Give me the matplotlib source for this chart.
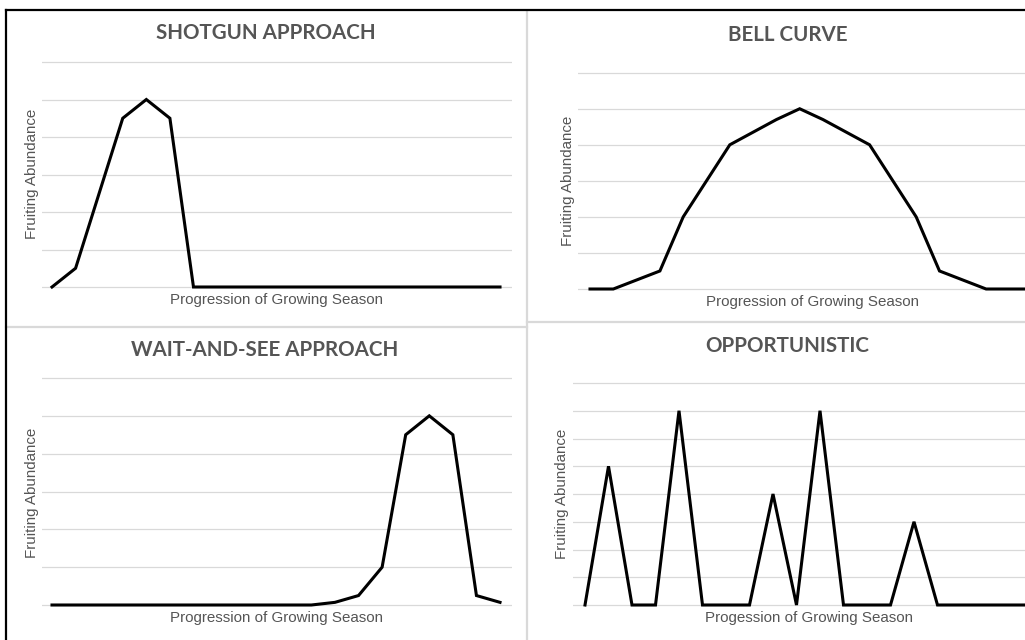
#!/usr/bin/env python3
"""
four fruiting strategy sketches, laid out like a 2x2 screenshot collage
"""
import matplotlib.pyplot as plt
from matplotlib.lines import Line2D

# ---- data ----
season = list(range(20))
shotgun = [0, 0.5, 2.5, 4.5, 5, 4.5, 0, 0, 0, 0, 0, 0, 0, 0, 0, 0, 0, 0, 0, 0]
bell = [0, 0, 0.25, 0.5, 2, 3, 4, 4.35, 4.7, 5, 4.7, 4.35, 4, 3, 2, 0.5,
        0.25, 0, 0, 0]
wait_and_see = [0, 0, 0, 0, 0, 0, 0, 0, 0, 0, 0, 0, 0.07, 0.25, 1, 4.5, 5,
                4.5, 0.25, 0.07]
opportunistic = [0, 5, 0, 0, 7, 0, 0, 0, 4, 0, 7, 0, 0, 0, 3, 0, 0, 0, 0, 0]

titles = ["SHOTGUN APPROACH", "BELL CURVE", "WAIT-AND-SEE APPROACH",
          "OPPORTUNISTIC"]
xlabels = ["Progression of Growing Season", "Progression of Growing Season",
           "Progression of Growing Season", "Progession of Growing Season"]
ylabel = "Fruiting Abundance"
series = [shotgun, bell, wait_and_see, opportunistic]
grid_max = [6, 6, 6, 8]

W, H = 1025, 640
GRAY_TXT = "#555555"
GRID = "#d9d9d9"

# pixel layout of each panel (image coords, y down)
# x0/dx: where the first point sits and the point spacing
layout = [
    dict(x0=52, dx=23.58, gl=42, gr=512, gt=62, gb=287,
         title=(266, 39), xl=(276, 304), yl=(32, 174)),
    dict(x0=590, dx=23.3, gl=578, gr=1045, gt=72.7, gb=289,
         title=(788, 41), xl=(813, 306), yl=(568, 181)),
    dict(x0=52, dx=23.58, gl=42, gr=512, gt=378, gb=605,
         title=(265, 356), xl=(276, 622), yl=(32, 493)),
    dict(x0=585, dx=23.5, gl=573, gr=1045, gt=383, gb=605,
         title=(787, 352), xl=(809, 622), yl=(562, 494)),
]


def fx(x):
    return x / W


def fy(y):
    return 1 - y / H


fig = plt.figure(figsize=(W / 100, H / 100), dpi=100)
fig.patch.set_facecolor("white")

for i, p in enumerate(layout):
    pad = 4
    unit = (p["gb"] - p["gt"]) / grid_max[i]
    ax = fig.add_axes([fx(p["gl"]), fy(p["gb"] + pad),
                       fx(p["gr"]) - fx(p["gl"]),
                       (p["gb"] - p["gt"] + 2 * pad) / H])
    ax.set_xlim((p["gl"] - p["x0"]) / p["dx"], (p["gr"] - p["x0"]) / p["dx"])
    ax.set_ylim(-pad / unit, grid_max[i] + pad / unit)
    ax.set_yticks(range(grid_max[i] + 1))
    ax.set_xticks([])
    ax.grid(axis="y", color=GRID, linewidth=0.9)
    ax.set_axisbelow(True)
    ax.tick_params(length=0, labelleft=False, labelbottom=False)
    for s in ax.spines.values():
        s.set_visible(False)
    ax.patch.set_alpha(0)

    ax.plot(season, series[i], color="black", linewidth=2.2,
            solid_joinstyle="miter", clip_on=False)

    fig.text(fx(p["title"][0]), fy(p["title"][1]), titles[i],
             ha="center", va="baseline", fontsize=14.8, fontweight="bold",
             family="Lato", color=GRAY_TXT)
    fig.text(fx(p["xl"][0]), fy(p["xl"][1]), xlabels[i],
             ha="center", va="baseline", fontsize=10.9,
             family="Liberation Sans", color=GRAY_TXT)
    fig.text(fx(p["yl"][0]), fy(p["yl"][1]), ylabel, rotation=90,
             ha="center", va="center", fontsize=10.9,
             family="Liberation Sans", color=GRAY_TXT)

# panel separators (light gray) and the outer black frame
fig.add_artist(Line2D([fx(527), fx(527)], [fy(11), 0], color=GRID,
                      linewidth=1.6, transform=fig.transFigure))
fig.add_artist(Line2D([fx(6), fx(527)], [fy(327), fy(327)], color=GRID,
                      linewidth=1.6, transform=fig.transFigure))
fig.add_artist(Line2D([fx(527), 1], [fy(322), fy(322)], color=GRID,
                      linewidth=1.6, transform=fig.transFigure))
fig.add_artist(Line2D([fx(6), 1], [fy(9.5), fy(9.5)], color="black",
                      linewidth=1.6, transform=fig.transFigure))
fig.add_artist(Line2D([fx(6), fx(6)], [fy(9.5), 0], color="black",
                      linewidth=1.6, transform=fig.transFigure))

plt.savefig("out.png", dpi=100)
